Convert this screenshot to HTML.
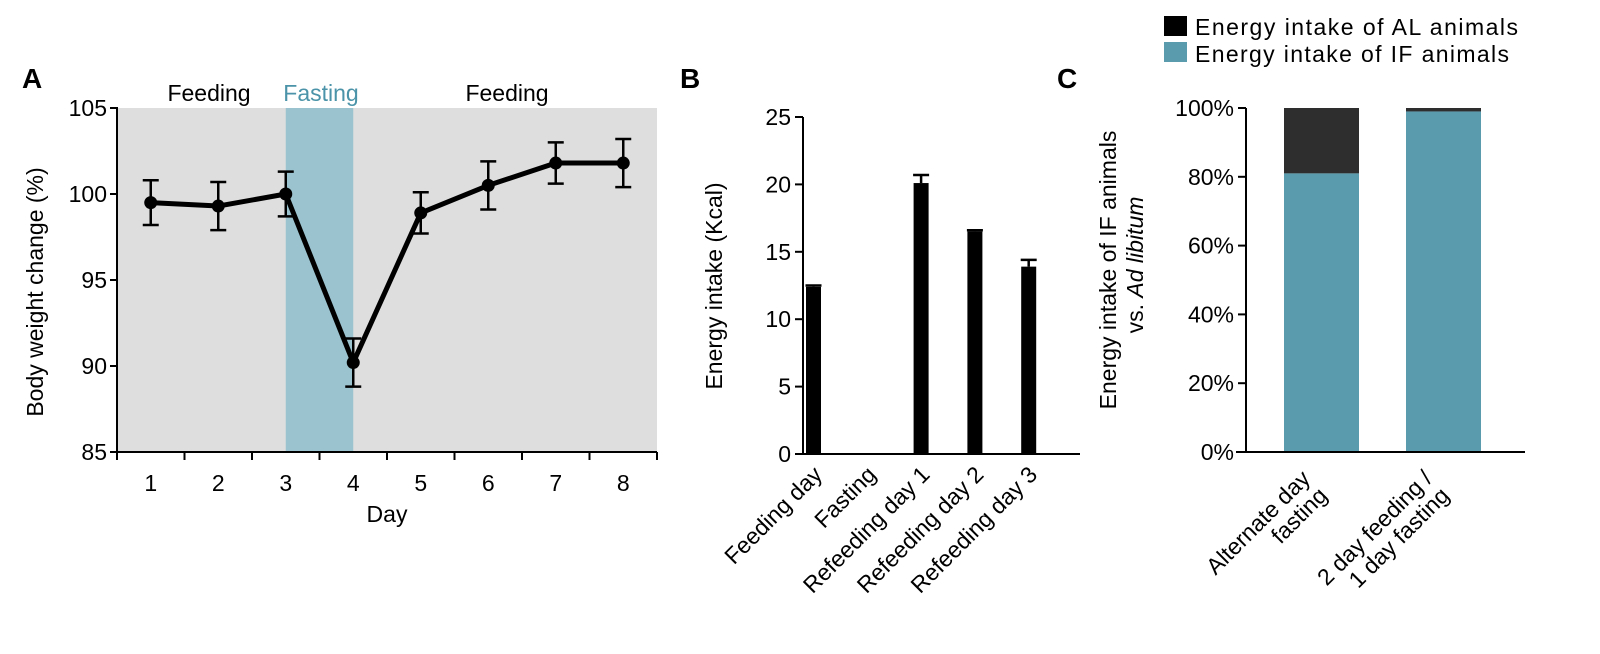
<!DOCTYPE html>
<html><head><meta charset="utf-8">
<style>
body{margin:0;background:#fff;}
svg{display:block;font-family:"Liberation Sans",Arial,sans-serif;}
</style></head>
<body>
<svg id="fig" width="1600" height="654" viewBox="0 0 1600 654" xmlns="http://www.w3.org/2000/svg"></svg>
<script>
// Panel A data
const daysA = [1,2,3,4,5,6,7,8];
const weightA = [99.5,99.3,100.0,90.2,98.9,100.5,101.8,101.8];
const errA = [1.3,1.4,1.3,1.4,1.2,1.4,1.2,1.4];
const yTicksA = [85,90,95,100,105];
// Panel B data
const catsB = ["Feeding day","Fasting","Refeeding day 1","Refeeding day 2","Refeeding day 3"];
const valsB = [12.4,0,20.1,16.5,13.9];
const errB = [0.1,0,0.6,0.1,0.5];
const yTicksB = [0,5,10,15,20,25];
// Panel C data
const catsC = [["Alternate day","fasting"],["2 day feeding /","1 day fasting"]];
const ifC = [81,99];
const alC = [19,1];
const yTicksC = [0,20,40,60,80,100];

const NS="http://www.w3.org/2000/svg";
const svg=document.getElementById('fig');
function mk(tag,attrs,parent){const e=document.createElementNS(NS,tag);for(const k in attrs)e.setAttribute(k,attrs[k]);(parent||svg).appendChild(e);return e;}
function txt(s,attrs,parent){const e=mk('text',attrs,parent);e.textContent=s;return e;}
const TF=23;

// ---------- Panel A ----------
const gA=mk('g',{});


const axL=117,axR=657,axT=108,axB=452;
const yA=v=>axB-(v-85)/(105-85)*(axB-axT);
const step=(axR-axL)/8;
const xA=d=>axL+(d-0.5)*step;
let e=mk('rect',{x:axL,y:axT,width:axR-axL,height:axB-axT,fill:'#dedede'},gA);


e=mk('rect',{x:xA(3),y:axT,width:xA(4)-xA(3),height:axB-axT,fill:'#9ac3cf'},gA);


e=txt('A',{x:22,y:88,'font-size':28,'font-weight':'bold'},gA);


e=txt('Feeding',{x:209,y:101,'font-size':TF,'text-anchor':'middle'},gA);


e=txt('Fasting',{x:321,y:101,'font-size':TF,'text-anchor':'middle',fill:'#4a93a8'},gA);


e=txt('Feeding',{x:507,y:101,'font-size':TF,'text-anchor':'middle'},gA);


mk('line',{x1:axL,y1:axT-1,x2:axL,y2:axB+1,stroke:'#000','stroke-width':2},gA);
mk('line',{x1:axL-1,y1:axB,x2:axR,y2:axB,stroke:'#000','stroke-width':2},gA);
yTicksA.forEach(v=>{
  mk('line',{x1:axL-7,y1:yA(v),x2:axL,y2:yA(v),stroke:'#000','stroke-width':2},gA);
  const t=txt(String(v),{x:axL-10,y:yA(v)+8,'font-size':TF,'text-anchor':'end'},gA);
  
  
});
for(let k=0;k<=8;k++){mk('line',{x1:axL+k*step,y1:axB,x2:axL+k*step,y2:axB+8,stroke:'#000','stroke-width':2},gA);}
daysA.forEach(d=>{
  const t=txt(String(d),{x:xA(d),y:axB+39,'font-size':TF,'text-anchor':'middle'},gA);
  
  
});
e=txt('Day',{x:387,y:522,'font-size':TF,'text-anchor':'middle'},gA);


e=txt('Body weight change (%)',{x:0,y:0,'font-size':TF,'text-anchor':'middle',transform:'translate(43,292) rotate(-90)'},gA);


e=mk('polyline',{points:daysA.map((d,i)=>xA(d)+','+yA(weightA[i])).join(' '),fill:'none',stroke:'#000','stroke-width':5,'stroke-linejoin':'round'},gA);


daysA.forEach((d,i)=>{
  const x=xA(d),hi=yA(weightA[i]+errA[i]),lo=yA(weightA[i]-errA[i]);
  const eb=mk('path',{d:`M${x},${hi}V${lo}M${x-8},${hi}H${x+8}M${x-8},${lo}H${x+8}`,stroke:'#000','stroke-width':2.5,fill:'none'},gA);
  
  
  const p=mk('circle',{cx:x,cy:yA(weightA[i]),r:6.5,fill:'#000'},gA);
  
  
});

// ---------- Panel B ----------
const gB=mk('g',{});


const bL=803,bR=1080,bT=117,bB=454;
const yB=v=>bB-v/25*(bB-bT);
const xB=i=>813.5+i*53.8;
e=txt('B',{x:680,y:88,'font-size':28,'font-weight':'bold'},gB);


mk('line',{x1:bL,y1:bT,x2:bL,y2:bB+1,stroke:'#000','stroke-width':2},gB);
mk('line',{x1:bL-8,y1:bB,x2:bR,y2:bB,stroke:'#000','stroke-width':2},gB);
yTicksB.forEach(v=>{
  mk('line',{x1:bL-8,y1:yB(v),x2:bL,y2:yB(v),stroke:'#000','stroke-width':2},gB);
  const t=txt(String(v),{x:bL-12,y:yB(v)+8,'font-size':TF,'text-anchor':'end'},gB);
  
  
});
e=txt('Energy intake (Kcal)',{x:0,y:0,'font-size':TF,'text-anchor':'middle',transform:'translate(722,286) rotate(-90)'},gB);


catsB.forEach((c,i)=>{
  const x=xB(i);
  if(valsB[i]>0){
    const b=mk('rect',{x:x-7.5,y:yB(valsB[i]),width:15,height:bB-yB(valsB[i]),fill:'#000'},gB);
    
    
    const hi=yB(valsB[i]+errB[i]);
    const eb=mk('path',{d:`M${x},${hi}V${yB(valsB[i])}M${x-8},${hi}H${x+8}`,stroke:'#000','stroke-width':2.5},gB);
    
    
  }
  const t=txt(c,{x:0,y:0,'font-size':23,'text-anchor':'end',transform:`translate(${x+10},${bB+22}) rotate(-45)`},gB);
  
  
});

// ---------- Panel C ----------
const gC=mk('g',{});


const cL=1246,cR=1525,cT=108,cB=452;
const yC=v=>cB-v/100*(cB-cT);
const xC=i=>1321.5+i*122;
e=txt('C',{x:1057,y:88,'font-size':28,'font-weight':'bold'},gC);


e=mk('rect',{x:1164,y:16,width:23,height:20,fill:'#000'},gC);


e=txt('Energy intake of AL animals',{x:1195,y:35,'font-size':23,textLength:323,lengthAdjust:'spacing'},gC);


e=mk('rect',{x:1164,y:42,width:23,height:20,fill:'#5a9bae'},gC);


e=txt('Energy intake of IF animals',{x:1195,y:62,'font-size':23,textLength:314,lengthAdjust:'spacing'},gC);


yTicksC.forEach(v=>{
  mk('line',{x1:cL-8,y1:yC(v),x2:cL,y2:yC(v),stroke:'#000','stroke-width':2},gC);
  const t=txt(v+'%',{x:cL-12,y:yC(v)+8,'font-size':TF,'text-anchor':'end'},gC);
  
  
});
e=txt('Energy intake of IF animals',{x:0,y:0,'font-size':TF,'text-anchor':'middle',transform:'translate(1116,270) rotate(-90)'},gC);


const t2=mk('text',{x:0,y:0,'font-size':TF,'text-anchor':'middle',transform:'translate(1143,265) rotate(-90)'},gC);
t2.innerHTML='vs. <tspan font-style="italic">Ad libitum</tspan>';


catsC.forEach((c,i)=>{
  const x=xC(i);
  const b1=mk('rect',{x:x-37.5,y:yC(ifC[i]),width:75,height:cB-yC(ifC[i]),fill:'#5a9bae'},gC);
  
  
  const b2=mk('rect',{x:x-37.5,y:yC(ifC[i]+alC[i]),width:75,height:yC(ifC[i])-yC(ifC[i]+alC[i]),fill:'#2e2e2e'},gC);
  
  
  c.forEach((line,j)=>{
    const t=txt(line,{x:0,y:0,'font-size':23,'text-anchor':'end',transform:`translate(${x-10+j*17},${cB+28+j*17}) rotate(-45)`},gC);
    
    
  });
});
mk('line',{x1:cL,y1:cT,x2:cL,y2:cB+1,stroke:'#000','stroke-width':2},gC);
mk('line',{x1:cL-10,y1:cB,x2:cR,y2:cB,stroke:'#000','stroke-width':2},gC);
</script>
</body></html>
